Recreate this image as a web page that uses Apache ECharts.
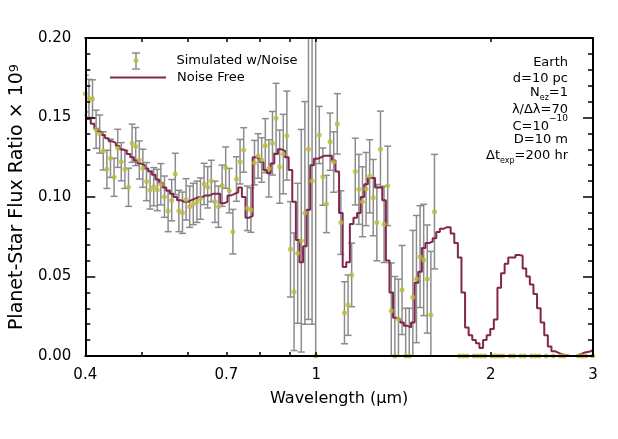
<!DOCTYPE html>
<html><head><meta charset="utf-8">
<script src="https://cdn.jsdelivr.net/npm/echarts@6/dist/echarts.min.js"></script>
<style>html,body{margin:0;padding:0;background:#fff}#c{width:618px;height:439px}</style>
</head><body><div id="c"></div>
<script>
// Wavelength bins (micron), R = 70
const wavelength = [0.4000,0.4058,0.4116,0.4175,0.4235,0.4296,0.4358,0.4421,0.4484,0.4549,
0.4614,0.4681,0.4748,0.4816,0.4886,0.4956,0.5027,0.5100,0.5173,0.5247,
0.5323,0.5399,0.5477,0.5556,0.5636,0.5717,0.5799,0.5883,0.5967,0.6053,
0.6140,0.6229,0.6318,0.6409,0.6501,0.6595,0.6690,0.6786,0.6884,0.6983,
0.7083,0.7185,0.7288,0.7393,0.7500,0.7608,0.7717,0.7828,0.7941,0.8055,
0.8171,0.8288,0.8408,0.8529,0.8651,0.8776,0.8902,0.9030,0.9160,0.9292,
0.9426,0.9561,0.9699,0.9838,0.9980,1.0124,1.0269,1.0417,1.0567,1.0719,
1.0873,1.1030,1.1188,1.1349,1.1513,1.1678,1.1846,1.2016,1.2189,1.2365,
1.2543,1.2723,1.2906,1.3092,1.3281,1.3472,1.3666,1.3862,1.4062,1.4264,
1.4469,1.4677,1.4888,1.5103,1.5320,1.5540,1.5764,1.5991,1.6221,1.6454,
1.6691,1.6931,1.7175,1.7422,1.7673,1.7927,1.8185,1.8447,1.8712,1.8981,
1.9254,1.9531,1.9812,2.0097,2.0386,2.0680,2.0977,2.1279,2.1585,2.1896,
2.2211,2.2530,2.2854,2.3183,2.3517,2.3855,2.4198,2.4547,2.4900,2.5258,
2.5622,2.5990,2.6364,2.6744,2.7128,2.7519,2.7915,2.8317,2.8724,2.9137,
2.9556,2.9982];

// Noise-free spectrum
const noiseFree = [.152,.149,.146,.143,.141,.139,.137,.135,.134,.132,
.130,.129,.127,.125,.123,.121,.120,.118,.116,.114,
.111,.109,.106,.104,.102,.100,.098,.097,.097,.098,
.099,.100,.100,.101,.101,.102,.102,.102,.096,.097,
.101,.102,.103,.106,.100,.087,.088,.125,.124,.122,
.117,.115,.121,.127,.130,.129,.125,.117,.097,.073,
.059,.069,.092,.120,.124,.125,.126,.126,.126,.123,
.116,.090,.056,.059,.083,.087,.090,.100,.108,.112,
.112,.106,.106,.098,.060,.040,.024,.023,.021,.019,
.018,.021,.046,.053,.068,.071,.072,.074,.078,.080,
.081,.081,.077,.071,.062,.040,.018,.013,.010,.008,
.005,.010,.013,.017,.023,.043,.052,.058,.062,.062,
.0635,.063,.055,.050,.045,.039,.030,.021,.013,.006,
.003,.002,.001,.0005,.0002,0,0,.001,.002,.0025,
.003,.004];

// Simulated with noise (null = not shown)
const simulated = [.165,.162,.1617,.1426,.1396,.129,.1174,.1243,.1124,.1306,
.1222,.1174,.1061,.1338,.1317,.1233,.1181,.1097,.1044,.1065,
.1044,.108,.1002,.0912,.098,.1145,.0912,.0901,.0985,.0939,
.0956,.097,.099,.1082,.1061,.1101,.097,.0939,.1071,.1185,
.104,.0782,.1113,.1222,.1296,.0929,.0918,.1216,.1258,.1233,
.1323,.118,.1338,.1495,.1191,.127,.1386,.0671,.0404,.0646,
.0725,.09,.130,.11,0,.139,.1128,.0956,.1348,.122,
.146,.0839,.0272,.032,.051,.116,.1048,.097,.105,.113,
.0996,.0839,.130,.0828,.107,.0285,0,.0233,.0415,0,
0,.037,.0484,.0625,.0604,.0484,.0258,.0908,null,null,
null,null,null,null,0,0,0,null,0,0,
0,0,null,0,0,0,0,null,0,0,
null,0,0,null,0,0,0,null,0,null,
0,null,0,0,null,null,null,0,0,0,
null,0];

// 1-sigma errors on simulated points (first 98 bins)
const simError = [.0115,.012,.012,.012,.012,.012,.012,.012,.012,.012,
.012,.012,.012,.012,.012,.012,.012,.012,.012,.012,
.013,.013,.013,.013,.013,.013,.013,.013,.013,.013,
.013,.013,.013,.013,.013,.013,.013,.013,.013,.013,
.014,.014,.014,.014,.014,.014,.014,.014,.014,.014,
.017,.018,.020,.022,.023,.025,.028,.030,.037,.044,
.070,.070,.107,.090,.250,.018,.018,.018,.018,.019,
.019,.020,.0195,.019,.020,.021,.022,.022,.023,.023,
.024,.024,.024,.024,.025,.030,.050,.025,.028,.030,
.030,.042,.040,.032,.035,.034,.040,.036];

const xLabelValues = [0.4, 0.7, 1, 2, 3];
const xTickValues = [0.5, 0.6, 0.7, 0.8, 0.9, 1, 2, 3];

const FONT = 'DejaVu Sans';
const lg = Math.log10;

const lineData = wavelength.map((w, i) => [lg(w), noiseFree[i]]);
const pointData = [];
const errData = [];
wavelength.forEach((w, i) => {
  const v = simulated[i];
  if (v === null || v === undefined) return;
  pointData.push([lg(w), v]);
  const e = simError[i];
  if (e !== undefined && e !== null) errData.push([lg(w), v - e, v + e]);
});

const xMin = lg(0.4), xMax = lg(3);
const fmtX = v => String(parseFloat(Math.pow(10, v).toPrecision(3)));

const axisLineStyle = {color: '#000', width: 2};
const tickStyle = {color: '#000', width: 1.5};
const chart = echarts.init(document.getElementById('c'), null, {renderer: 'canvas'});
chart.setOption({
  animation: false,
  backgroundColor: '#fff',
  grid: {left: 85, right: 25, top: 38, bottom: 83, containLabel: false},
  xAxis: [{
    type: 'value', min: xMin, max: xMax, position: 'bottom', z: 10,
    name: 'Wavelength (μm)', nameLocation: 'middle', nameGap: 35,
    nameTextStyle: {fontFamily: FONT, fontSize: 16, color: '#000'},
    axisLine: {show: true, onZero: false, lineStyle: axisLineStyle},
    axisTick: {show: true, inside: true, length: 4, customValues: xTickValues.map(lg), lineStyle: tickStyle},
    axisLabel: {show: true, margin: 12, customValues: xLabelValues.map(lg), formatter: fmtX,
      fontFamily: FONT, fontSize: 15, color: '#000'},
    splitLine: {show: false}
  }, {
    type: 'value', min: xMin, max: xMax, position: 'top', z: 10,
    axisLine: {show: true, onZero: false, lineStyle: axisLineStyle},
    axisTick: {show: true, inside: true, length: 4, customValues: xTickValues.map(lg), lineStyle: tickStyle},
    axisLabel: {show: false},
    splitLine: {show: false}
  }],
  yAxis: [{
    type: 'value', min: 0, max: 0.2, interval: 0.05, position: 'left', z: 10,
    name: 'Planet-Star Flux Ratio × 10{sup|9}', nameLocation: 'middle', nameGap: 56,
    nameTextStyle: {fontFamily: FONT, fontSize: 19, color: '#000',
      rich: {sup: {fontFamily: FONT, fontSize: 13, verticalAlign: 'top', color: '#000'}}},
    axisLine: {show: true, onZero: false, lineStyle: axisLineStyle},
    axisTick: {show: true, inside: true, length: 10, lineStyle: tickStyle},
    minorTick: {show: true, splitNumber: 5, length: 5, lineStyle: tickStyle},
    axisLabel: {margin: 14, formatter: v => v.toFixed(2), fontFamily: FONT, fontSize: 15, color: '#000', padding: [5, 0, 0, 0]},
    splitLine: {show: false}
  }, {
    type: 'value', min: 0, max: 0.2, interval: 0.05, position: 'right', z: 10,
    axisLine: {show: true, onZero: false, lineStyle: axisLineStyle},
    axisTick: {show: true, inside: true, length: 10, lineStyle: tickStyle},
    minorTick: {show: true, splitNumber: 5, length: 5, lineStyle: tickStyle},
    axisLabel: {show: false},
    splitLine: {show: false}
  }],
  legend: [{
    data: [{name: 'Simulated w/Noise', icon: 'circle'}],
    left: 133.5, top: 54, padding: 0, itemWidth: 5, itemHeight: 5, selectedMode: false,
    textStyle: {fontFamily: FONT, fontSize: 13, color: '#000', padding: [0, 0, 0, 33]}
  }, {
    data: [{name: 'Noise Free', icon: 'rect'}],
    left: 110, top: 71, padding: 0, itemWidth: 56, itemHeight: 2, selectedMode: false,
    textStyle: {fontFamily: FONT, fontSize: 13, color: '#000', padding: [0, 0, 0, 6]}
  }],
  graphic: [
    {type: 'group', z: 100, children: [
      {type: 'line', shape: {x1: 136, y1: 53, x2: 136, y2: 69}, style: {stroke: '#8c8c8c', lineWidth: 1.5}},
      {type: 'line', shape: {x1: 132, y1: 53, x2: 140, y2: 53}, style: {stroke: '#8c8c8c', lineWidth: 1.5}},
      {type: 'line', shape: {x1: 132, y1: 69, x2: 140, y2: 69}, style: {stroke: '#8c8c8c', lineWidth: 1.5}}
    ]},
    {type: 'text', x: 568, y: 63, style: {text: 'Earth', align: 'right', verticalAlign: 'middle', font: '13px "DejaVu Sans"', fill: '#000'}},
    {type: 'text', x: 568, y: 79, style: {text: 'd=10 pc', align: 'right', verticalAlign: 'middle', font: '13px "DejaVu Sans"', fill: '#000'}},
    {type: 'text', x: 568, y: 93, style: {text: '{n|N}{s|ez}{n|=1}', align: 'right', verticalAlign: 'middle', fill: '#000',
      rich: {n: {fontFamily: FONT, fontSize: 13, lineHeight: 17}, s: {fontFamily: FONT, fontSize: 8, verticalAlign: 'bottom'}}}},
    {type: 'text', x: 568, y: 110, style: {text: 'λ/Δλ=70', align: 'right', verticalAlign: 'middle', font: '13px "DejaVu Sans"', fill: '#000'}},
    {type: 'text', x: 568, y: 124, style: {text: '{n|C=10}{s|−10}', align: 'right', verticalAlign: 'middle', fill: '#000',
      rich: {n: {fontFamily: FONT, fontSize: 13, lineHeight: 19, verticalAlign: 'bottom'}, s: {fontFamily: FONT, fontSize: 9, verticalAlign: 'top'}}}},
    {type: 'text', x: 568, y: 140, style: {text: 'D=10 m', align: 'right', verticalAlign: 'middle', font: '13px "DejaVu Sans"', fill: '#000'}},
    {type: 'text', x: 568, y: 156, style: {text: '{n|Δt}{s|exp}{n|=200 hr}', align: 'right', verticalAlign: 'middle', fill: '#000',
      rich: {n: {fontFamily: FONT, fontSize: 13, lineHeight: 17}, s: {fontFamily: FONT, fontSize: 8, verticalAlign: 'bottom'}}}}
  ],
  series: [{
    name: 'errors', type: 'custom', xAxisIndex: 0, yAxisIndex: 0, clip: true, z: 2,
    data: errData,
    encode: {x: 0, y: [1, 2]},
    renderItem: (params, api) => {
      const x = api.value(0), lo = api.value(1), hi = api.value(2);
      const p1 = api.coord([x, lo]), p2 = api.coord([x, hi]);
      const cw = 3.5;
      const st = {stroke: '#8c8c8c', lineWidth: 1.5, fill: null};
      return {type: 'group', children: [
        {type: 'line', shape: {x1: p1[0], y1: p1[1], x2: p2[0], y2: p2[1]}, style: st},
        {type: 'line', shape: {x1: p1[0] - cw, y1: p1[1], x2: p1[0] + cw, y2: p1[1]}, style: st},
        {type: 'line', shape: {x1: p2[0] - cw, y1: p2[1], x2: p2[0] + cw, y2: p2[1]}, style: st}
      ]};
    }
  }, {
    name: 'Noise Free', type: 'line', step: 'middle', symbol: 'none', z: 3,
    data: lineData, lineStyle: {color: '#82264f', width: 2}, itemStyle: {color: '#82264f'}
  }, {
    name: 'Simulated w/Noise', type: 'scatter', symbol: 'circle', symbolSize: 5, z: 4, clip: false,
    data: pointData, itemStyle: {color: '#bcbc34'}
  }]
});
</script>
</body></html>
